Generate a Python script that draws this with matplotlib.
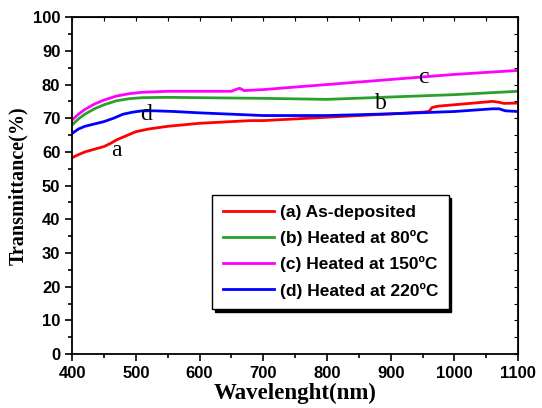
import matplotlib
matplotlib.use("Agg")
import matplotlib.pyplot as plt
import numpy as np
from matplotlib.ticker import MultipleLocator

# Data
wl_a = [400, 410, 420, 435, 450, 460, 470, 485, 500, 520, 550, 600, 650, 680, 700, 750, 800, 850, 900, 950, 960, 965, 975, 1000, 1030, 1060, 1068, 1078, 1100]
t_a  = [58.3, 59.2, 60.0, 60.8, 61.6, 62.5, 63.6, 64.8, 66.0, 66.8, 67.6, 68.5, 69.0, 69.3, 69.3, 69.8, 70.3, 70.8, 71.3, 71.8, 72.0, 73.2, 73.6, 74.0, 74.5, 75.0, 74.8, 74.4, 74.5]

wl_b = [400, 410, 420, 435, 450, 470, 490, 510, 550, 600, 700, 800, 900, 1000, 1100]
t_b  = [68.0, 69.8, 71.2, 72.8, 74.0, 75.2, 75.8, 76.1, 76.2, 76.1, 75.9, 75.6, 76.3, 77.0, 78.0]

wl_c = [400, 410, 420, 435, 450, 470, 490, 510, 550, 600, 650, 658, 663, 670, 700, 800, 900, 1000, 1100]
t_c  = [69.5, 71.2, 72.6, 74.2, 75.4, 76.6, 77.3, 77.7, 78.0, 78.0, 78.0, 78.6, 78.9, 78.2, 78.5, 80.0, 81.5, 83.0, 84.2]

wl_d = [400, 410, 420, 435, 450, 465, 480, 495, 510, 530, 560, 600, 650, 700, 750, 800, 900, 1000, 1060, 1070, 1080, 1100]
t_d  = [65.5, 66.8, 67.6, 68.3, 69.0, 70.0, 71.2, 71.8, 72.2, 72.2, 72.0, 71.6, 71.2, 70.8, 70.8, 70.8, 71.3, 72.0, 72.8, 72.8, 72.2, 72.0]

labels = ["(a) As-deposited", "(b) Heated at 80\u00baC", "(c) Heated at 150\u00baC", "(d) Heated at 220\u00baC"]
colors = ["#ff0000", "#2ca02c", "#ff00ff", "#0000ff"]
letters = ["a", "b", "c", "d"]
letter_x = [469, 885, 952, 516]
letter_y = [60.5, 74.5, 82.0, 71.0]

fig = plt.figure(figsize=(5.42, 4.08), dpi=100)
ax = fig.add_axes([0.133, 0.132, 0.823, 0.826])

for wl, t, c, lab in zip([wl_a, wl_b, wl_c, wl_d], [t_a, t_b, t_c, t_d], colors, labels):
    ax.plot(wl, t, color=c, lw=2, label=lab)

for lx, ly, lt in zip(letter_x, letter_y, letters):
    ax.text(lx, ly, lt, family="Liberation Serif", fontsize=17, ha="center", va="center")

ax.set_xlim(400, 1100)
ax.set_ylim(0, 100)
ax.xaxis.set_major_locator(MultipleLocator(100))
ax.xaxis.set_minor_locator(MultipleLocator(50))
ax.yaxis.set_major_locator(MultipleLocator(10))
ax.yaxis.set_minor_locator(MultipleLocator(5))
ax.tick_params(which="both", direction="out", top=False, right=False, width=1.2)
ax.tick_params(which="major", length=5)
ax.tick_params(which="minor", length=3)
for lab in ax.get_xticklabels() + ax.get_yticklabels():
    lab.set_family("Liberation Sans")
    lab.set_fontweight("bold")
    lab.set_fontsize(12)

sec_x = ax.secondary_xaxis("top")
sec_x.set_xticks(np.arange(400, 1101, 50))
sec_x.tick_params(direction="in", length=3, labeltop=False)
sec_y = ax.secondary_yaxis("right")
sec_y.set_yticks(np.arange(0, 101, 5))
sec_y.tick_params(direction="in", length=3, labelright=False)

for s in ax.spines.values():
    s.set_linewidth(1.3)

ax.set_xlabel("Wavelenght(nm)", family="Liberation Serif", fontweight="bold", fontsize=16.5, labelpad=1)
ax.set_ylabel("Transmittance(%)", family="Liberation Serif", fontweight="bold", fontsize=14.5, labelpad=3)

leg = ax.legend(loc="lower left", bbox_to_anchor=(0.314, 0.134), borderaxespad=0, frameon=True,
                fancybox=False, shadow={"color": "black", "alpha": 1.0},
                prop={"family": "Liberation Sans", "weight": "bold", "size": 12.5},
                handlelength=2.95, labelspacing=0.58, borderpad=0.6, handletextpad=0.35)
leg.get_frame().set_edgecolor("black")
leg.get_frame().set_linewidth(1.0)

fig.savefig("out.png", dpi=100)
